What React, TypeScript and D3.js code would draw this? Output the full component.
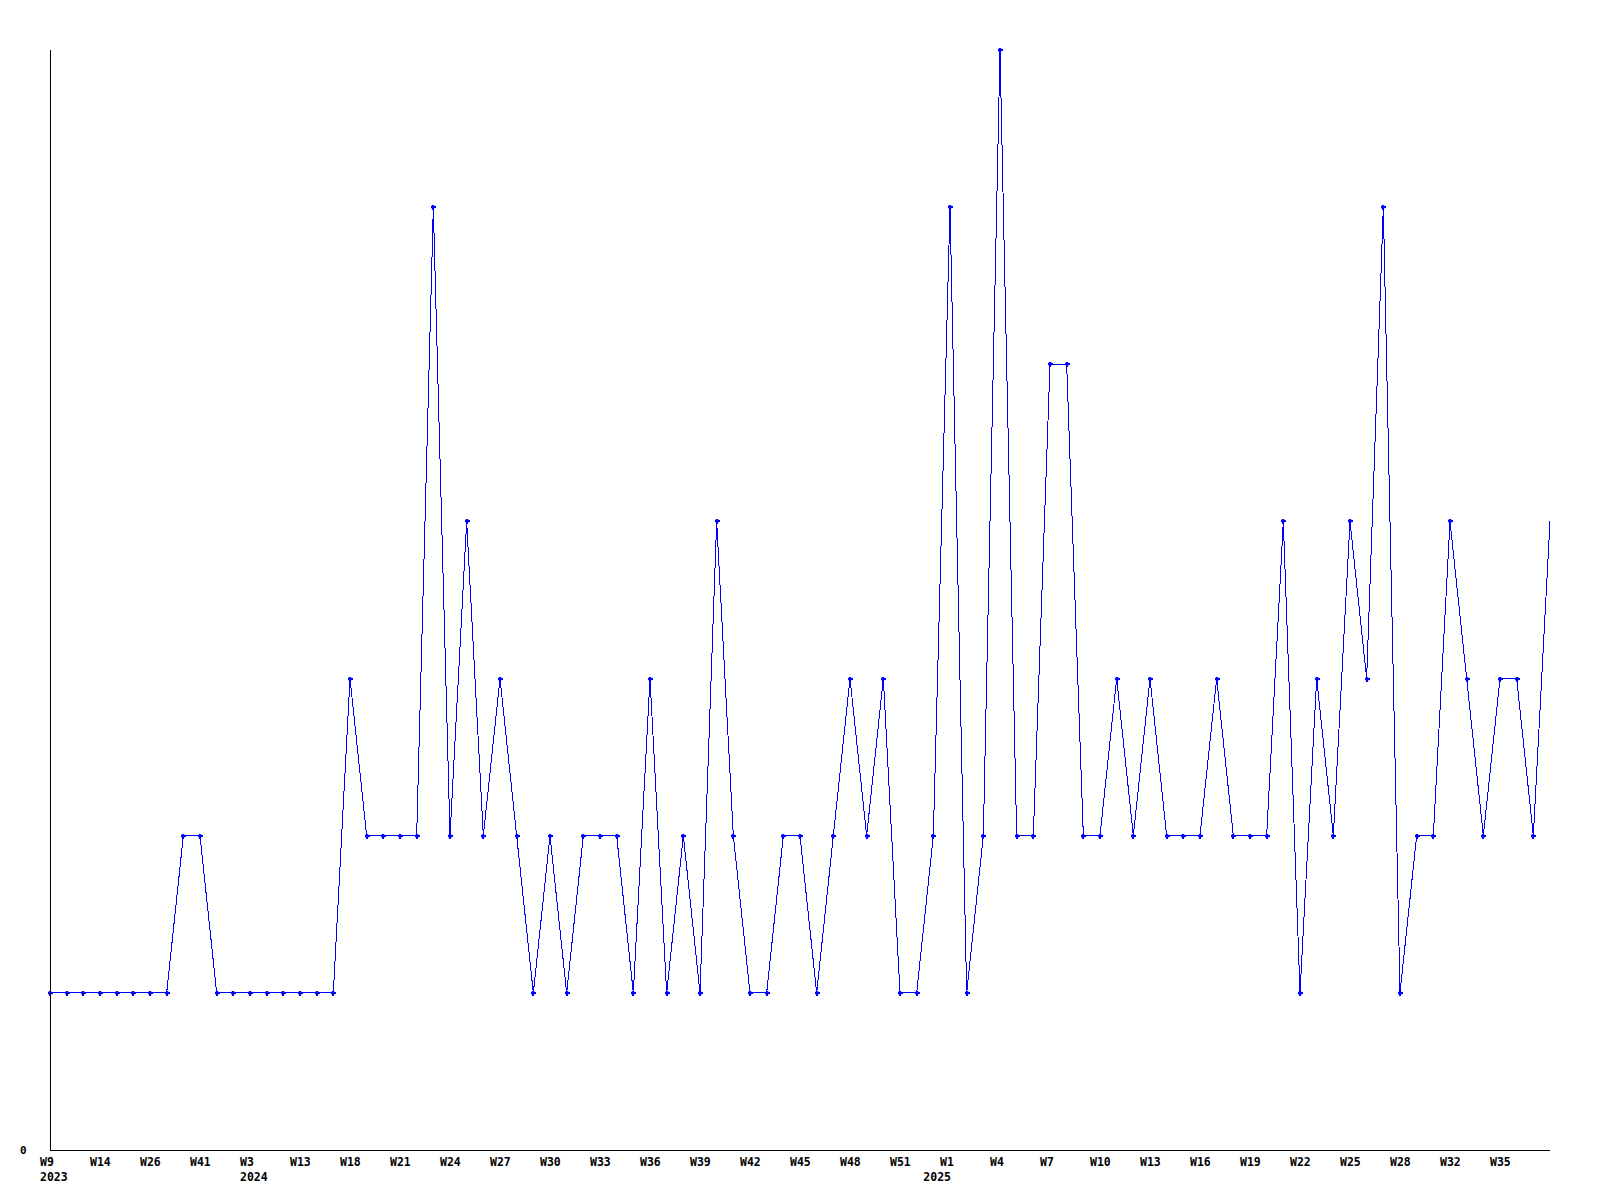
import React from "react";
import * as d3 from "d3";

const weeks: string[] = [
  "W9", "W11", "W12", "W14", "W18", "W22", "W26", "W31", "W36", "W41", "W46", "W50",
  "W3", "W6", "W10", "W13", "W14", "W16", "W18", "W19", "W20", "W21", "W22", "W23",
  "W24", "W25", "W26", "W27", "W28", "W29", "W30", "W31", "W32", "W33", "W34", "W35",
  "W36", "W37", "W38", "W39", "W40", "W41", "W42", "W43", "W44", "W45", "W46", "W47",
  "W48", "W49", "W50", "W51", "W52", "W0", "W1", "W2", "W3", "W4", "W5", "W6",
  "W7", "W8", "W9", "W10", "W11", "W12", "W13", "W14", "W15", "W16", "W17", "W18",
  "W19", "W20", "W21", "W22", "W23", "W24", "W25", "W26", "W27", "W28", "W30", "W31",
  "W32", "W33", "W34", "W35", "W36", "W37", "W38",
];

const values: number[] = [
  1, 1, 1, 1, 1, 1, 1, 1, 2, 2, 1, 1,
  1, 1, 1, 1, 1, 1, 3, 2, 2, 2, 2, 6,
  2, 4, 2, 3, 2, 1, 2, 1, 2, 2, 2, 1,
  3, 1, 2, 1, 4, 2, 1, 1, 2, 2, 1, 2,
  3, 2, 3, 1, 1, 2, 6, 1, 2, 7, 2, 2,
  5, 5, 2, 2, 3, 2, 3, 2, 2, 2, 3, 2,
  2, 2, 4, 1, 3, 2, 4, 3, 6, 1, 2, 2,
  4, 3, 2, 3, 3, 2, 4,
];

const yearStarts: { index: number; year: string }[] = [
  { index: 0, year: "2023" },
  { index: 12, year: "2024" },
  { index: 53, year: "2025" },
];

const yTicks: number[] = [0];
const labelEvery = 3;

export default function App() {
  const width = 1600;
  const height = 1200;
  const left = 50;
  const right = 1550;
  const top = 50;
  const bottom = 1150;

  const x = d3.scaleLinear().domain([0, values.length - 1]).range([left, right]);
  const y = d3.scaleLinear().domain([0, 7]).range([bottom, top]);

  const line = d3
    .line<number>()
    .x((_, i) => x(i))
    .y((d) => y(d));

  const font = "'DejaVu Sans Mono', monospace";

  return (
    <svg
      width={width}
      height={height}
      style={{ position: "absolute", left: 0, top: 0, background: "#fff" }}
    >
      <rect x={0} y={0} width={width} height={height} fill="#fff" />
      <path
        d={line(values) || ""}
        fill="none"
        stroke="#0000ff"
        strokeWidth={1}
        shapeRendering="crispEdges"
      />
      {values.slice(0, values.length - 1).map((v, i) => (
        <g key={i} transform={`translate(${Math.round(x(i))},${Math.round(y(v))})`}>
          <path
            d="M-2.5,0H2.5M0,-2.5V2.5"
            stroke="#0000ff"
            strokeWidth={1.6}
            shapeRendering="crispEdges"
          />
          <rect x={-1.5} y={-1.5} width={3} height={3} fill="#0000ff" />
        </g>
      ))}
      <line x1={left} x2={left} y1={top} y2={bottom} stroke="#000" strokeWidth={1} shapeRendering="crispEdges" />
      <line x1={left} x2={right} y1={bottom} y2={bottom} stroke="#000" strokeWidth={1} shapeRendering="crispEdges" />
      {yTicks.map((t) => (
        <text key={t} x={20} y={y(t) + 4} fontFamily={font} fontWeight="bold" fontSize={11} fill="#000">
          {t}
        </text>
      ))}
      {weeks.map((w, i) =>
        i % labelEvery === 0 && i < weeks.length - 1 ? (
          <text key={i} x={x(i) - 10} y={1166} fontFamily={font} fontWeight="bold" fontSize={11.5} fill="#000">
            {w}
          </text>
        ) : null
      )}
      {yearStarts.map((ys) => (
        <text key={ys.year} x={x(ys.index) - 10} y={1181} fontFamily={font} fontWeight="bold" fontSize={11.5} fill="#000">
          {ys.year}
        </text>
      ))}
    </svg>
  );
}
